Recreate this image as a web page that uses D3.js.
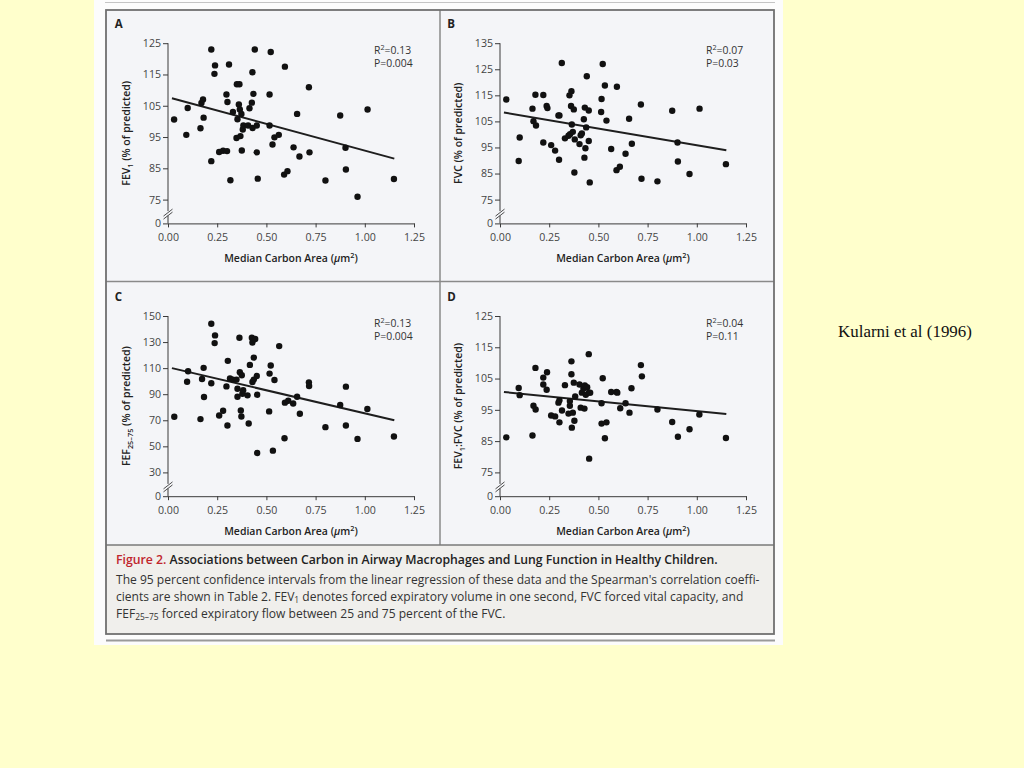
<!DOCTYPE html>
<html><head><meta charset="utf-8">
<script src="https://cdn.jsdelivr.net/npm/d3@7"></script>
<style>body{margin:0;background:#ffffcc;}svg{display:block}</style>
</head><body><svg id="c" width="1024" height="768"></svg>
<script>
// ---------- DATA ----------
const xTicks = [0, 0.25, 0.5, 0.75, 1.0, 1.25];

const carbonA = [0.031,0.093,0.10,0.165,0.17,0.178,0.181,0.22,0.22,0.239,0.236,0.26,0.28,0.297,0.302,0.30,0.31,0.317,0.33,0.348,0.35,0.363,0.353,0.36,0.365,0.368,0.373,0.375,0.38,0.383,0.407,0.414,0.426,0.429,0.434,0.43,0.441,0.451,0.451,0.456,0.516,0.516,0.522,0.531,0.541,0.563,0.594,0.59,0.607,0.638,0.656,0.668,0.716,0.719,0.80,0.875,0.902,0.904,0.963,1.014,1.148];
const fev1 = [100.6,95.7,104.3,97.8,105.9,107,101.2,123,87.3,117.9,115.2,90.2,90.6,108.6,106.2,90.5,118.2,81.2,103,94.7,111.9,111.9,100.7,105.4,103.8,95.3,102.4,90.7,97.4,98.7,98.7,104.2,106,115.7,108.8,97.9,123,98.7,90.1,81.7,108.6,98.7,122.2,92.6,94.9,95.7,117.5,83,84.1,91.7,102.4,88.8,110.9,90.1,81.1,101.9,91.6,84.6,75.9,103.8,81.6];

const carbonB = [0.032,0.095,0.10,0.165,0.17,0.18,0.183,0.22,0.22,0.237,0.241,0.26,0.28,0.297,0.302,0.30,0.314,0.33,0.348,0.353,0.363,0.356,0.361,0.365,0.37,0.375,0.378,0.38,0.404,0.41,0.416,0.426,0.429,0.431,0.434,0.438,0.441,0.451,0.451,0.456,0.514,0.516,0.522,0.533,0.541,0.565,0.594,0.592,0.609,0.638,0.656,0.67,0.716,0.719,0.80,0.875,0.902,0.904,0.963,1.014,1.148];
const fvc = [113.4,89.8,98.8,109.9,105.1,115.2,103.4,115.1,96.9,110.9,110.1,95.9,93.8,107.3,107.3,90.3,127.4,98.5,99.5,115,116.6,100.1,110.9,103.8,101,109.6,85.4,98.1,96.3,99.7,100.4,105.8,91.1,110.3,94.7,102.7,122.3,109.2,97.5,81.6,108.6,113.6,127,118.8,105.3,94.4,118.3,86.3,87.6,92.6,106,96.4,111.5,83,82,109.1,96.9,89.6,84.8,109.9,88.6];

const carbonC = [0.032,0.097,0.102,0.165,0.173,0.181,0.183,0.22,0.22,0.239,0.237,0.26,0.28,0.297,0.302,0.304,0.315,0.33,0.348,0.353,0.353,0.363,0.365,0.37,0.373,0.375,0.378,0.382,0.404,0.41,0.416,0.426,0.429,0.429,0.436,0.436,0.443,0.451,0.453,0.453,0.514,0.516,0.522,0.533,0.541,0.565,0.592,0.594,0.611,0.636,0.656,0.67,0.716,0.717,0.80,0.875,0.904,0.904,0.963,1.013,1.148];
const fef2575 = [72.7,99.6,107.6,70.9,101.7,110.2,87.8,144.1,98.4,135.1,129.2,73.7,77.3,96,66,115.6,102,101.2,101.2,94.2,88.1,133.3,106.8,77.5,72.9,104.5,90.4,93,89.1,67.5,112.5,133.3,129.7,99.4,118.1,101.2,132.3,104,89.6,44.9,76.8,105.8,112,46.7,100.9,126.9,56.2,83.5,85,82.9,88.1,75,99.1,96.3,64.7,81.7,95.8,66,55.7,78.6,57.5];

const carbonD = [0.032,0.095,0.10,0.165,0.17,0.18,0.181,0.22,0.22,0.239,0.237,0.26,0.28,0.297,0.302,0.302,0.315,0.33,0.348,0.355,0.355,0.363,0.363,0.365,0.37,0.375,0.378,0.382,0.404,0.41,0.416,0.424,0.429,0.431,0.436,0.443,0.451,0.451,0.458,0.453,0.516,0.516,0.522,0.533,0.541,0.565,0.592,0.596,0.611,0.638,0.658,0.668,0.716,0.721,0.80,0.875,0.904,0.963,1.013,1.148];
const fev1fvc = [86.2,102,99.7,86.8,96.3,108.4,95.1,105.3,103.1,107,101.4,93.2,92.9,97.3,98.1,91,94.8,102.9,93.8,97.8,96.3,110.5,106.4,89.3,94.1,103.7,91.5,99.3,103.1,95.7,100.5,101.8,95.4,102.8,99.8,102.2,112.8,100.5,100.5,79.4,90.6,97.1,105.1,85.9,91,100.7,100.7,100.5,95.5,97.1,94.1,101.9,109.3,105.7,95.1,91.1,86.4,88.8,93.5,86];

// regression line end points [x, y]
const fitA = [[0.02,107.4],[1.15,88.1]];
const fitB = [[0.02,108.4],[1.15,93.9]];
const fitC = [[0.02,110.0],[1.15,70.0]];
const fitD = [[0.02,100.7],[1.15,93.7]];

const yTicksA = [0,75,85,95,105,115,125];
const yTicksB = [0,75,85,95,105,115,125,135];
const yTicksC = [0,30,50,70,90,110,130,150];
const yTicksD = [0,75,85,95,105,115,125];

const stats = [["0.13","0.004"],["0.07","0.03"],["0.13","0.004"],["0.04","0.11"]];

// ---------- DRAWING ----------
const FONT = "'Open Sans','DejaVu Sans',sans-serif";
const svg = d3.select("#c");
svg.append("rect").attr("width",1024).attr("height",768).attr("fill","#ffffcc");
svg.append("rect").attr("x",94).attr("y",0).attr("width",689).attr("height",645).attr("fill","#fcfcfc");
svg.append("line").attr("x1",105).attr("x2",775).attr("y1",2.5).attr("y2",2.5).attr("stroke","#c4c4c4").attr("stroke-width",1);
svg.append("rect").attr("x",106).attr("y",10).attr("width",668).attr("height",535).attr("fill","#f4f5f8");
svg.append("rect").attr("x",106).attr("y",545).attr("width",668).attr("height",89).attr("fill","#f0efec");
svg.append("line").attr("x1",440).attr("x2",440).attr("y1",10).attr("y2",545).attr("stroke","#8a8a8a").attr("stroke-width",1.5);
svg.append("line").attr("x1",106).attr("x2",774).attr("y1",281.5).attr("y2",281.5).attr("stroke","#8a8a8a").attr("stroke-width",1.5);
svg.append("line").attr("x1",106).attr("x2",774).attr("y1",545).attr("y2",545).attr("stroke","#7a7a7a").attr("stroke-width",1.5);
svg.append("rect").attr("x",106).attr("y",10).attr("width",668).attr("height",624).attr("fill","none").attr("stroke","#707070").attr("stroke-width",1.8);
svg.append("line").attr("x1",106).attr("x2",775).attr("y1",640.5).attr("y2",640.5).attr("stroke","#9a9a9a").attr("stroke-width",2);

function measure(str, fs, weight, family){
  const t = svg.append("text").attr("font-family",family||FONT).attr("font-size",fs).attr("font-weight",weight||400).text(str);
  const w = t.node().getComputedTextLength(); t.remove(); return w;
}
function fitSize(str, target, weight, family){ return 10*target/measure(str,10,weight,family); }

function rich(sel, parts, fs, subShift){
  let shift = 0;
  const ss = subShift===undefined ? 0.32 : subShift;
  parts.forEach(([s,t])=>{
    const ts = sel.append("tspan").text(s);
    const target = t==="sub" ? fs*ss : t==="sup" ? -fs*0.4 : 0;
    const small = (t==="sub"||t==="sup");
    ts.attr("dy", target-shift); shift = target;
    if(small) ts.attr("font-size", fs*0.7);
    if(t==="it") ts.attr("font-style","italic");
  });
}

const rows = [{top:43.2, low:199.6, zero:223.4, letterY:27.7}, {top:316.0, low:472.4, zero:496.2, letterY:300.5}];
const cols = [{x0:168, x1:414, letterX:114.7}, {x0:500, x1:746, letterX:447.3}];

const panels = [
  {letter:"A", col:0,row:0, xs:carbonA, ys:fev1, fit:fitA, ticks:yTicksA, st:stats[0], ylab:[["FEV",""],["1","sub"],[" (% of predicted)",""]]},
  {letter:"B", col:1,row:0, xs:carbonB, ys:fvc, fit:fitB, ticks:yTicksB, st:stats[1], ylab:[["FVC (% of predicted)",""]]},
  {letter:"C", col:0,row:1, xs:carbonC, ys:fef2575, fit:fitC, ticks:yTicksC, st:stats[2], ylab:[["FEF",""],["25–75","sub"],[" (% of predicted)",""]]},
  {letter:"D", col:1,row:1, xs:carbonD, ys:fev1fvc, fit:fitD, ticks:yTicksD, st:stats[3], ylab:[["FEV",""],["1","sub"],[":FVC (% of predicted)",""]]}
];

const titleFs = fitSize("Median Carbon Area (μm2)", 136, 600);
const tickFs = 10.6;
const AX = "#3a3a3a";

panels.forEach(p=>{
  const r = rows[p.row], c = cols[p.col];
  const lo = p.ticks[1], hi = p.ticks[p.ticks.length-1];
  const x = d3.scaleLinear().domain([0,1.25]).range([c.x0, c.x1]);
  const y = d3.scaleLinear().domain([0, lo, hi]).range([r.zero, r.low, r.top]);
  const g = svg.append("g");

  g.append("text").attr("x",c.letterX).attr("y",r.letterY).attr("font-family",FONT).attr("font-weight",700)
    .attr("font-size",11.5).attr("fill","#222").text(p.letter);

  const xa = g.append("g").attr("transform",`translate(0,${r.zero})`)
    .call(d3.axisBottom(x).tickValues(xTicks).tickFormat(d3.format(".2f")).tickSize(4).tickSizeOuter(0).tickPadding(6));
  xa.select(".domain").attr("stroke",AX);
  xa.selectAll(".tick line").attr("stroke",AX);
  xa.selectAll("text").attr("font-family",FONT).attr("font-size",tickFs).attr("fill","#444");

  const ya = g.append("g").attr("transform",`translate(${c.x0},0)`)
    .call(d3.axisLeft(y).tickValues(p.ticks).tickSize(5).tickPadding(2).tickSizeOuter(0));
  ya.select(".domain").remove();
  ya.selectAll(".tick line").attr("stroke",AX);
  ya.selectAll("text").attr("font-family",FONT).attr("font-size",tickFs).attr("fill","#444");
  g.append("line").attr("x1",c.x0).attr("x2",c.x0).attr("y1",y(hi)).attr("y2",y(lo)+11.5).attr("stroke",AX);
  g.append("line").attr("x1",c.x0).attr("x2",c.x0).attr("y1",y(lo)+16).attr("y2",y(0)).attr("stroke",AX);
  [0,3].forEach(o=>{
    g.append("line").attr("x1",c.x0-4.5).attr("y1",y(lo)+16.5+o).attr("x2",c.x0+4.5).attr("y2",y(lo)+9.5+o)
      .attr("stroke",AX).attr("stroke-width",0.9);
  });

  const xt = g.append("text").attr("x",(c.x0+c.x1)/2).attr("y",r.zero+38.5).attr("text-anchor","middle")
    .attr("font-family",FONT).attr("font-weight",600).attr("font-size",titleFs).attr("fill","#222");
  rich(xt, [["Median Carbon Area (",""],["μ","it"],["m",""],["2","sup"],[")",""]], titleFs);
  const yt = g.append("text").attr("transform",`translate(${c.x0-38.5},${(r.top+r.zero)/2}) rotate(-90)`)
    .attr("text-anchor","middle").attr("font-family",FONT).attr("font-weight",600).attr("font-size",titleFs).attr("fill","#222");
  rich(yt, p.ylab, titleFs);

  const s1 = g.append("text").attr("x",c.x0+206).attr("y",r.top+11.1).attr("font-family",FONT).attr("font-size",10.4).attr("fill","#333");
  rich(s1, [["R",""],["2","sup"],["=" + p.st[0],""]], 10.4);
  g.append("text").attr("x",c.x0+206).attr("y",r.top+24.1).attr("font-family",FONT).attr("font-size",10.4).attr("fill","#333")
    .text("P=" + p.st[1]);

  g.append("line").attr("x1",x(p.fit[0][0])).attr("y1",y(p.fit[0][1])).attr("x2",x(p.fit[1][0])).attr("y2",y(p.fit[1][1]))
    .attr("stroke","#1e1e1e").attr("stroke-width",2);

  g.selectAll("circle.pt").data(p.xs.map((v,i)=>[v,p.ys[i]])).join("circle").attr("class","pt")
    .attr("cx",d=>x(d[0])).attr("cy",d=>y(d[1])).attr("r",3.2).attr("fill","#111");
});

// caption
const capTitle = "Associations between Carbon in Airway Macrophages and Lung Function in Healthy Children.";
const fsT = fitSize("Figure 2. " + capTitle, 602, 600);
const t1 = svg.append("text").attr("x",116).attr("y",564).attr("font-family",FONT).attr("font-weight",600).attr("font-size",fsT);
t1.append("tspan").attr("fill","#c0262d").text("Figure 2. ");
t1.append("tspan").attr("fill","#222").text(capTitle);

const line2 = "The 95 percent confidence intervals from the linear regression of these data and the Spearman's correlation coeffi-";
const fsC = fitSize(line2, 644, 400);
const capLines = [
  [[line2,""]],
  [["cients are shown in Table 2. FEV",""],["1","sub"],[" denotes forced expiratory volume in one second, FVC forced vital capacity, and",""]],
  [["FEF",""],["25–75","sub"],[" forced expiratory flow between 25 and 75 percent of the FVC.",""]]
];
[583.5, 600.5, 617.5].forEach((by,i)=>{
  const t = svg.append("text").attr("x",116).attr("y",by).attr("font-family",FONT).attr("font-size",fsC).attr("fill","#333");
  rich(t, capLines[i], fsC, 0.2);
});

const serif = "'Liberation Serif','Times New Roman',serif";
const fsK = fitSize("Kularni et al (1996)", 134, 400, serif);
svg.append("text").attr("x",838).attr("y",337).attr("font-family",serif).attr("font-size",fsK).attr("fill","#111").text("Kularni et al (1996)");
</script>
</body></html>
